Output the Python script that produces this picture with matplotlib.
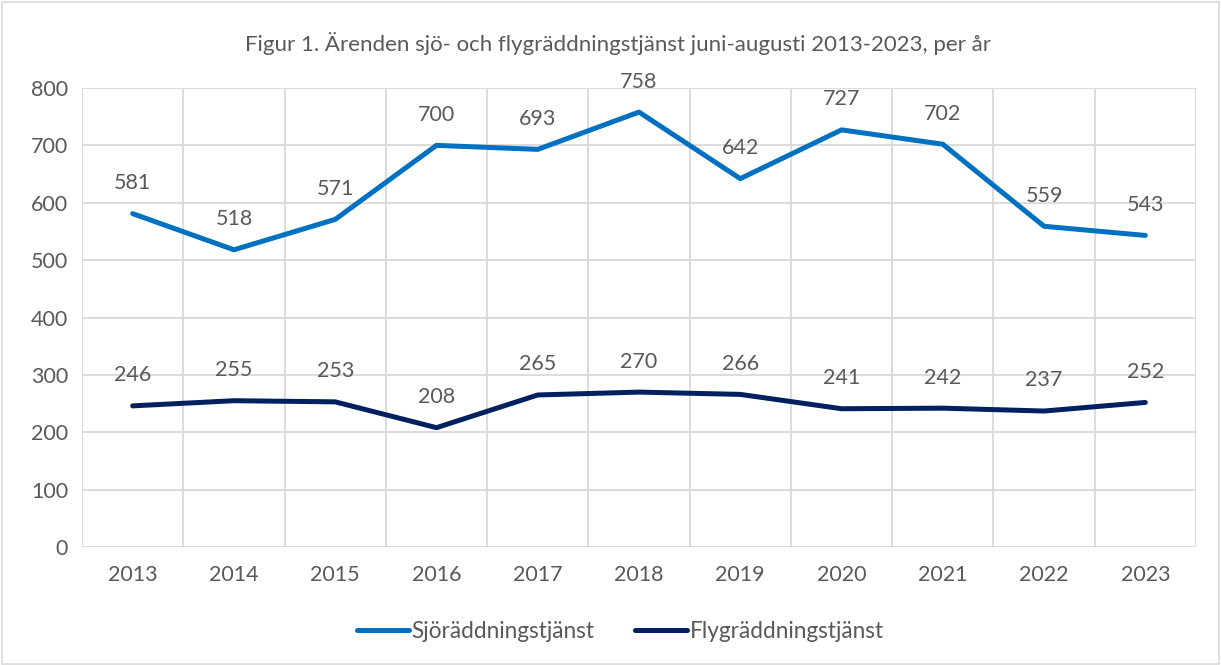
import numpy as np
import matplotlib.pyplot as plt
from matplotlib.patches import Rectangle

years = ["2013", "2014", "2015", "2016", "2017", "2018", "2019", "2020", "2021", "2022", "2023"]
sjo = [581, 518, 571, 700, 693, 758, 642, 727, 702, 559, 543]
fly = [246, 255, 253, 208, 265, 270, 266, 241, 242, 237, 252]

plt.rcParams['font.family'] = ['Lato', 'DejaVu Sans']
text_color = '#595959'
grid_color = '#d9d9d9'
fs = 15.5

fig = plt.figure(figsize=(12.21, 6.65), dpi=100)
ax = fig.add_axes([0.0672, 0.1774, 0.9123, 0.6903])

x = np.arange(len(years))
ax.plot(x, sjo, color='#0070C0', lw=3.6, solid_capstyle='round', label='Sjöräddningstjänst')
ax.plot(x, fly, color='#002060', lw=3.6, solid_capstyle='round', label='Flygräddningstjänst')

# data labels above each point
for series in (sjo, fly):
    for xi, v in zip(x, series):
        ax.annotate(str(v), (xi, v), xytext=(0, 22), textcoords='offset points',
                    ha='center', va='center', fontsize=fs, color=text_color)

ax.set_xlim(-0.5, len(years) - 0.5)
ax.set_ylim(0, 800)
ax.set_yticks(range(0, 801, 100))
ax.set_xticks(x)
ax.set_xticklabels(years)
ax.set_xticks(np.arange(-0.5, len(years), 1), minor=True)
ax.grid(True, which='minor', axis='x', color=grid_color, lw=1.3)
ax.grid(True, which='major', axis='y', color=grid_color, lw=1.3)
ax.set_axisbelow(True)
ax.tick_params(which='both', length=0)
ax.tick_params(axis='both', labelsize=fs, labelcolor=text_color)
ax.tick_params(axis='x', pad=13)
ax.tick_params(axis='y', pad=10)
for s in ax.spines.values():
    s.set_visible(False)

fig.text(0.506, 0.935, "Figur 1. Ärenden sjö- och flygräddningstjänst juni-augusti 2013-2023, per år",
         ha='center', va='center', fontsize=16, color=text_color)

fig.legend(loc='center', bbox_to_anchor=(0.508, 0.05), ncol=2, frameon=False,
           fontsize=16.3, labelcolor=text_color, handlelength=2.3, handletextpad=0.1,
           columnspacing=1.8)

fig.add_artist(Rectangle((0.002, 0.002), 0.996, 0.995, transform=fig.transFigure,
                         fill=False, edgecolor='#d9d9d9', lw=1.2))

fig.savefig("out.png", dpi=100)
